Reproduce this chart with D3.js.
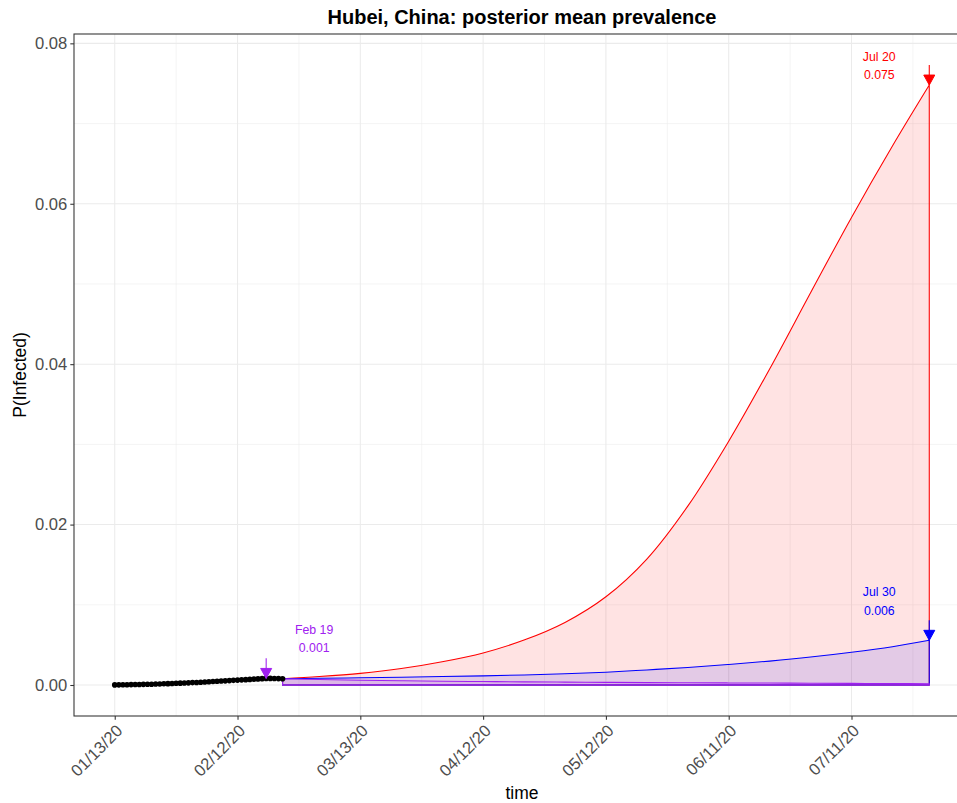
<!DOCTYPE html>
<html>
<head>
<meta charset="utf-8">
<script src="https://cdn.jsdelivr.net/npm/d3@7"></script>
<style>
  body { margin: 0; background: #fff; }
  svg { display: block; font-family: "Liberation Sans", Arial, Helvetica, sans-serif; }
</style>
</head>
<body>
<svg id="chart" width="957" height="803"></svg>
<script>
// Observed daily prevalence, starting 2020-01-13
const obsStart = "2020-01-13";
const observed = [
  0.00001, 0.00002, 0.00003, 0.00004, 0.00005, 0.00006, 0.00007, 0.00008, 0.00009, 0.00010,
  0.00012, 0.00013, 0.00015, 0.00017, 0.00019, 0.00021, 0.00023, 0.00025, 0.00027, 0.00030,
  0.00032, 0.00035, 0.00037, 0.00040, 0.00043, 0.00046, 0.00049, 0.00052, 0.00055, 0.00058,
  0.00061, 0.00064, 0.00067, 0.00070, 0.00073, 0.00076, 0.00079, 0.00082, 0.00082, 0.00081,
  0.00080, 0.00078
];

// Projected posterior mean prevalence under three scenarios
const projDates = [
  "2020-02-23", "2020-03-03", "2020-03-13", "2020-03-23", "2020-04-02", "2020-04-12",
  "2020-04-22", "2020-05-02", "2020-05-12", "2020-05-22", "2020-06-01", "2020-06-11",
  "2020-06-21", "2020-07-01", "2020-07-11", "2020-07-21", "2020-07-30"
];
const redMean = [
  0.00078, 0.00105, 0.00145, 0.00205, 0.0029, 0.0040, 0.0056, 0.0078, 0.0110, 0.0157,
  0.0223, 0.0304, 0.0394, 0.0489, 0.0583, 0.0672, 0.0748
];
const blueMean = [
  0.00078, 0.00084, 0.00090, 0.00097, 0.00105, 0.00114, 0.00125, 0.00140, 0.00160, 0.00188,
  0.00218, 0.00256, 0.00298, 0.00348, 0.00408, 0.00478, 0.00557
];
const purpleMean = [
  0.00078, 0.00068, 0.00060, 0.00053, 0.00047, 0.00043, 0.00039, 0.00036, 0.00033, 0.00030,
  0.00028, 0.00026, 0.00024, 0.00022, 0.00020, 0.00018, 0.00016
];

const xTickDates = ["2020-01-13", "2020-02-12", "2020-03-13", "2020-04-12", "2020-05-12", "2020-06-11", "2020-07-11"];
const yTicks = [0, 0.02, 0.04, 0.06, 0.08];

// Peak markers: label text, marked date and value
const markerLabels = ["Jul 20", "Jul 30", "Feb 19"];
const markerDates = ["2020-07-30", "2020-07-30", "2020-02-19"];
const markerValues = [redMean[redMean.length - 1], blueMean[blueMean.length - 1], observed[37]];
const arrowRise = 0.0025;

// ---- layout ----
const W = 957, H = 803;
const P = { left: 74, top: 34, right: 970, bottom: 716 };
const COLORS = { red: "#FF0000", blue: "#0000FF", purple: "#A020F0" };
const markerColors = [COLORS.red, COLORS.blue, COLORS.purple];
const labelOffsets = [ { dx: -50, dy1: -28, dy2: -10.5 }, { dx: -50, dy1: -49, dy2: -30 }, { dx: 48, dy1: -49, dy2: -30.5 } ];

const parse = d3.timeParse("%Y-%m-%d");
const t0 = parse(obsStart);
const obs = observed.map((v, i) => ({ date: d3.timeDay.offset(t0, i), value: v }));
const proj = vals => projDates.map((d, i) => ({ date: parse(d), value: vals[i] }));
const series = [
  { color: COLORS.red, data: proj(redMean) },
  { color: COLORS.blue, data: proj(blueMean) },
  { color: COLORS.purple, data: proj(purpleMean) }
];

// ggplot-style 5% expansion
const xMin = t0, xMax = parse(projDates[projDates.length - 1]);
const xPad = (xMax - xMin) * 0.05;
const x = d3.scaleTime()
  .domain([new Date(+xMin - xPad), new Date(+xMax + xPad)])
  .range([P.left, P.right]);
const yTop = d3.max(markerValues) + arrowRise;
const y = d3.scaleLinear()
  .domain([-yTop * 0.05, yTop * 1.05])
  .range([P.bottom, P.top]);

const svg = d3.select("#chart");
svg.append("rect").attr("width", W).attr("height", H).attr("fill", "#fff");

svg.append("defs").append("clipPath").attr("id", "panel")
  .append("rect").attr("x", P.left).attr("y", P.top)
  .attr("width", P.right - P.left).attr("height", P.bottom - P.top);

const panel = svg.append("g").attr("clip-path", "url(#panel)");

// grid
const grid = panel.append("g").attr("fill", "none").attr("stroke", "#EBEBEB");
const xMajor = xTickDates.map(parse);
const xMinor = xMajor.map(d => d3.timeDay.offset(d, 15));
const yMinor = yTicks.slice(0, -1).map(v => v + 0.01);
grid.selectAll(".xm").data(xMinor).join("line")
  .attr("x1", d => x(d)).attr("x2", d => x(d)).attr("y1", P.top).attr("y2", P.bottom)
  .attr("stroke-width", 0.55);
grid.selectAll(".ym").data(yMinor).join("line")
  .attr("x1", P.left).attr("x2", P.right).attr("y1", d => y(d)).attr("y2", d => y(d))
  .attr("stroke-width", 0.55);
grid.selectAll(".xM").data(xMajor).join("line")
  .attr("x1", d => x(d)).attr("x2", d => x(d)).attr("y1", P.top).attr("y2", P.bottom)
  .attr("stroke-width", 1.07);
grid.selectAll(".yM").data(yTicks).join("line")
  .attr("x1", P.left).attr("x2", P.right).attr("y1", d => y(d)).attr("y2", d => y(d))
  .attr("stroke-width", 1.07);

// projected areas
const area = d3.area()
  .x(d => x(d.date)).y0(y(0)).y1(d => y(d.value))
  .curve(d3.curveCatmullRom.alpha(0.5));
panel.selectAll(".area").data(series).join("path")
  .attr("d", s => area(s.data))
  .attr("fill", s => s.color).attr("fill-opacity", 0.11)
  .attr("stroke", s => s.color).attr("stroke-width", 1.07);

// observed points
panel.append("g").selectAll("circle").data(obs).join("circle")
  .attr("cx", d => x(d.date)).attr("cy", d => y(d.value)).attr("r", 2.8)
  .attr("fill", "#000");

// arrows and labels
const fmt = d3.format(".3f");
markerValues.forEach((v, i) => {
  const cx = x(parse(markerDates[i]));
  const tip = y(v), start = y(v + arrowRise);
  const g = panel.append("g").attr("fill", markerColors[i]).attr("stroke", markerColors[i]);
  g.append("line").attr("x1", cx).attr("x2", cx).attr("y1", start).attr("y2", tip)
    .attr("stroke-width", 1.07);
  g.append("path").attr("stroke-width", 1)
    .attr("d", `M${cx},${tip}L${cx - 5.5},${tip - 10}L${cx + 5.5},${tip - 10}Z`);
  const o = labelOffsets[i];
  const t = svg.append("g").attr("fill", markerColors[i]).attr("font-size", 12.3)
    .attr("text-anchor", "middle");
  t.append("text").attr("x", cx + o.dx).attr("y", tip + o.dy1).attr("dy", "0.35em").text(markerLabels[i]);
  t.append("text").attr("x", cx + o.dx).attr("y", tip + o.dy2).attr("dy", "0.35em").text(fmt(v));
});

// panel border
svg.append("rect").attr("x", P.left).attr("y", P.top)
  .attr("width", P.right - P.left).attr("height", P.bottom - P.top)
  .attr("fill", "none").attr("stroke", "#333333").attr("stroke-width", 1.07);

// y axis
const yAxis = svg.append("g").attr("transform", `translate(${P.left},0)`)
  .call(d3.axisLeft(y).tickValues(yTicks).tickFormat(d3.format(".2f")).tickSize(3.7).tickPadding(3));
yAxis.select(".domain").remove();
yAxis.selectAll(".tick line").attr("stroke", "#333333").attr("stroke-width", 1.07);
yAxis.selectAll(".tick text").attr("fill", "#4D4D4D").attr("font-size", 16.6)
  .attr("font-family", "Liberation Sans, Arial, sans-serif");

// x axis
const fmtX = d3.timeFormat("%m/%d/%y");
const xAxis = svg.append("g").attr("transform", `translate(0,${P.bottom})`)
  .call(d3.axisBottom(x).tickValues(xMajor).tickFormat(fmtX).tickSize(3.7));
xAxis.select(".domain").remove();
xAxis.selectAll(".tick line").attr("stroke", "#333333").attr("stroke-width", 1.07);
xAxis.selectAll(".tick text")
  .attr("fill", "#4D4D4D").attr("font-size", 16.6)
  .attr("font-family", "Liberation Sans, Arial, sans-serif")
  .attr("text-anchor", "end")
  .attr("x", 0).attr("y", 0).attr("dy", 0)
  .attr("transform", "translate(8.3,15.8) rotate(-45)");

// titles
svg.append("text").attr("x", (P.left + P.right) / 2).attr("y", 23.5)
  .attr("text-anchor", "middle").attr("font-size", 20).attr("font-weight", "bold")
  .attr("fill", "#000").text("Hubei, China: posterior mean prevalence");
svg.append("text").attr("x", (P.left + P.right) / 2).attr("y", 799)
  .attr("text-anchor", "middle").attr("font-size", 17.5).attr("fill", "#000").text("time");
svg.append("text").attr("transform", `translate(26,${(P.top + P.bottom) / 2}) rotate(-90)`)
  .attr("text-anchor", "middle").attr("font-size", 17.5).attr("fill", "#000").text("P(Infected)");
</script>
</body>
</html>
